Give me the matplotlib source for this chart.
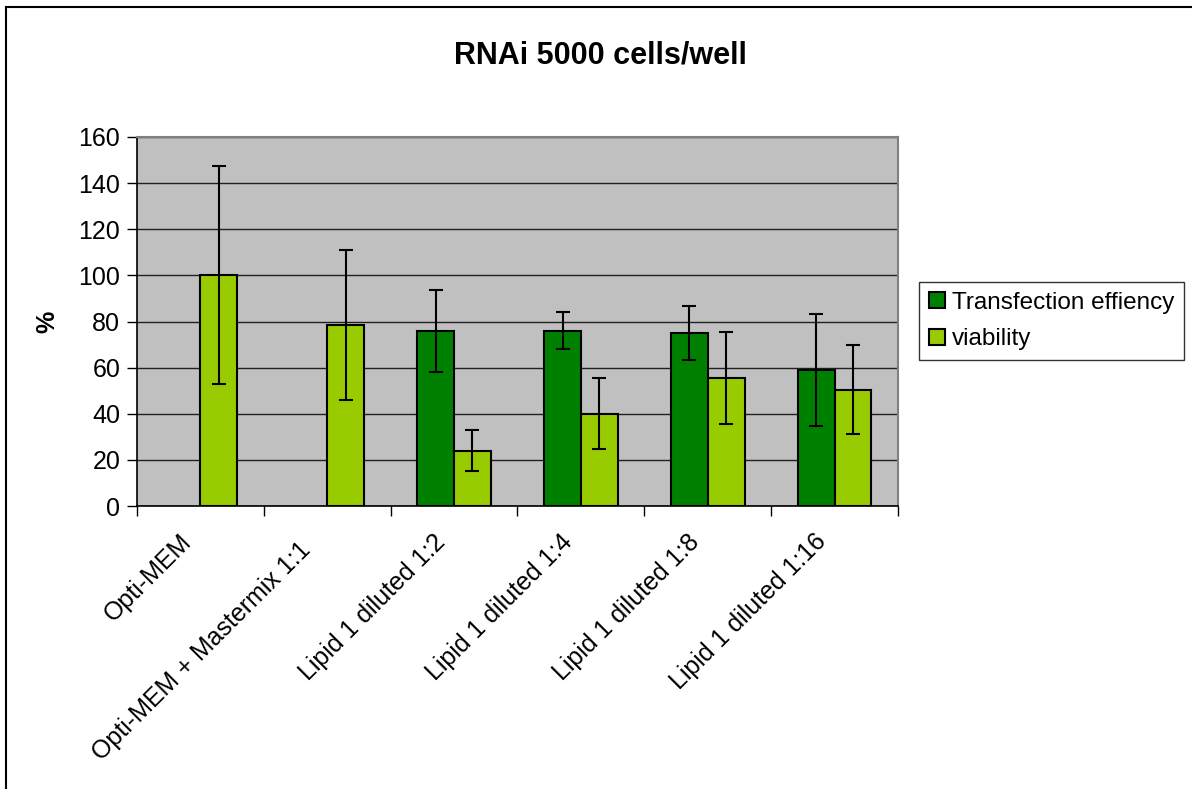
import numpy as np
import matplotlib
matplotlib.use("Agg")
import matplotlib.pyplot as plt
from matplotlib.lines import Line2D
from matplotlib.transforms import ScaledTranslation

plt.rcParams["font.family"] = ["Liberation Sans", "DejaVu Sans"]

# data
categories = [
    "Opti-MEM",
    "Opti-MEM + Mastermix 1:1",
    "Lipid 1 diluted 1:2",
    "Lipid 1 diluted 1:4",
    "Lipid 1 diluted 1:8",
    "Lipid 1 diluted 1:16",
]
transfection = [0, 0, 76, 76, 75, 59]
transfection_err = [0, 0, 17.7, 8.1, 11.9, 24.2]
viability = [100, 78.5, 24, 40, 55.5, 50.5]
viability_err = [47.3, 32.7, 8.9, 15.3, 19.9, 19.1]

DARK = "#008000"
LIGHT = "#99CC00"

fig = plt.figure(figsize=(11.92, 7.89), dpi=100)
ax = fig.add_axes([137 / 1192, 1 - 506 / 789, (898 - 137) / 1192, (506 - 137) / 789])
ax.set_facecolor("#C0C0C0")

x = np.arange(len(categories))
w = 0.29
ekw = dict(ecolor="black", elinewidth=1.5, capsize=5, capthick=1.5)
# first two groups have no transfection bar, skip those
tmask = [i for i, v in enumerate(transfection) if v > 0]
ax.bar(x[tmask] - w / 2, [transfection[i] for i in tmask], w, color=DARK,
       edgecolor="black", linewidth=1.5, zorder=3,
       yerr=[transfection_err[i] for i in tmask], error_kw=ekw)
ax.bar(x + w / 2, viability, w, color=LIGHT, edgecolor="black", linewidth=1.5,
       zorder=3, yerr=viability_err, error_kw=ekw)

ax.set_xlim(-0.5, len(categories) - 0.5)
ax.set_ylim(0, 160)
ax.set_yticks(np.arange(0, 161, 20))
ax.yaxis.grid(True, color="#202020", linewidth=1, zorder=1)
ax.set_axisbelow(True)
ax.tick_params(axis="y", labelsize=18, length=7, width=1, pad=5)

# category boundary ticks, labels at centres
ax.set_xticks(np.arange(-0.5, len(categories)), minor=False)
ax.set_xticklabels([])
ax.tick_params(axis="x", length=7, width=1)
ax.set_xticks(x, minor=True)
ax.set_xticklabels(categories, minor=True, rotation=45, ha="right",
                   va="top", rotation_mode="anchor", fontsize=18)
ax.tick_params(axis="x", which="minor", length=0, pad=17)
for i, lab in enumerate(ax.get_xticklabels(minor=True)):
    # the long label sits a little lower/left in the original
    dx, dy = (-29, -8) if i == 1 else (-21, 0)
    off = ScaledTranslation(dx / 100, dy / 100, fig.dpi_scale_trans)
    lab.set_transform(lab.get_transform() + off)

for s in ("left", "bottom"):
    ax.spines[s].set_color("black")
    ax.spines[s].set_linewidth(1.2)
for s in ("right", "top"):
    ax.spines[s].set_color("#808080")
    ax.spines[s].set_linewidth(1.5)

ax.set_ylabel("%", fontsize=18, fontweight="bold", labelpad=14)
fig.text(600 / 1192, 1 - 55 / 789, "RNAi 5000 cells/well", fontsize=22,
         fontweight="bold", ha="center", va="center")

handles = [
    plt.Rectangle((0, 0), 1, 1, facecolor=DARK, edgecolor="black", linewidth=1.5),
    plt.Rectangle((0, 0), 1, 1, facecolor=LIGHT, edgecolor="black", linewidth=1.5),
]
leg = fig.legend(handles, ["Transfection effiency", "viability"],
                 loc="center left", bbox_to_anchor=(919 / 1192, 1 - 321 / 789),
                 fontsize=17.5, frameon=True, fancybox=False, borderpad=0.4,
                 handlelength=0.65, handleheight=0.65, handletextpad=0.3,
                 labelspacing=0.6, borderaxespad=0)
leg.get_frame().set_edgecolor("black")
leg.get_frame().set_linewidth(1)

# outer chart border (left and top visible in reference)
fig.add_artist(Line2D([6 / 1192, 6 / 1192], [0, 1 - 7 / 789], color="black",
                      linewidth=1.5, transform=fig.transFigure))
fig.add_artist(Line2D([6 / 1192, 1], [1 - 7 / 789, 1 - 7 / 789], color="black",
                      linewidth=1.5, transform=fig.transFigure))

fig.savefig("out.png", dpi=100)
